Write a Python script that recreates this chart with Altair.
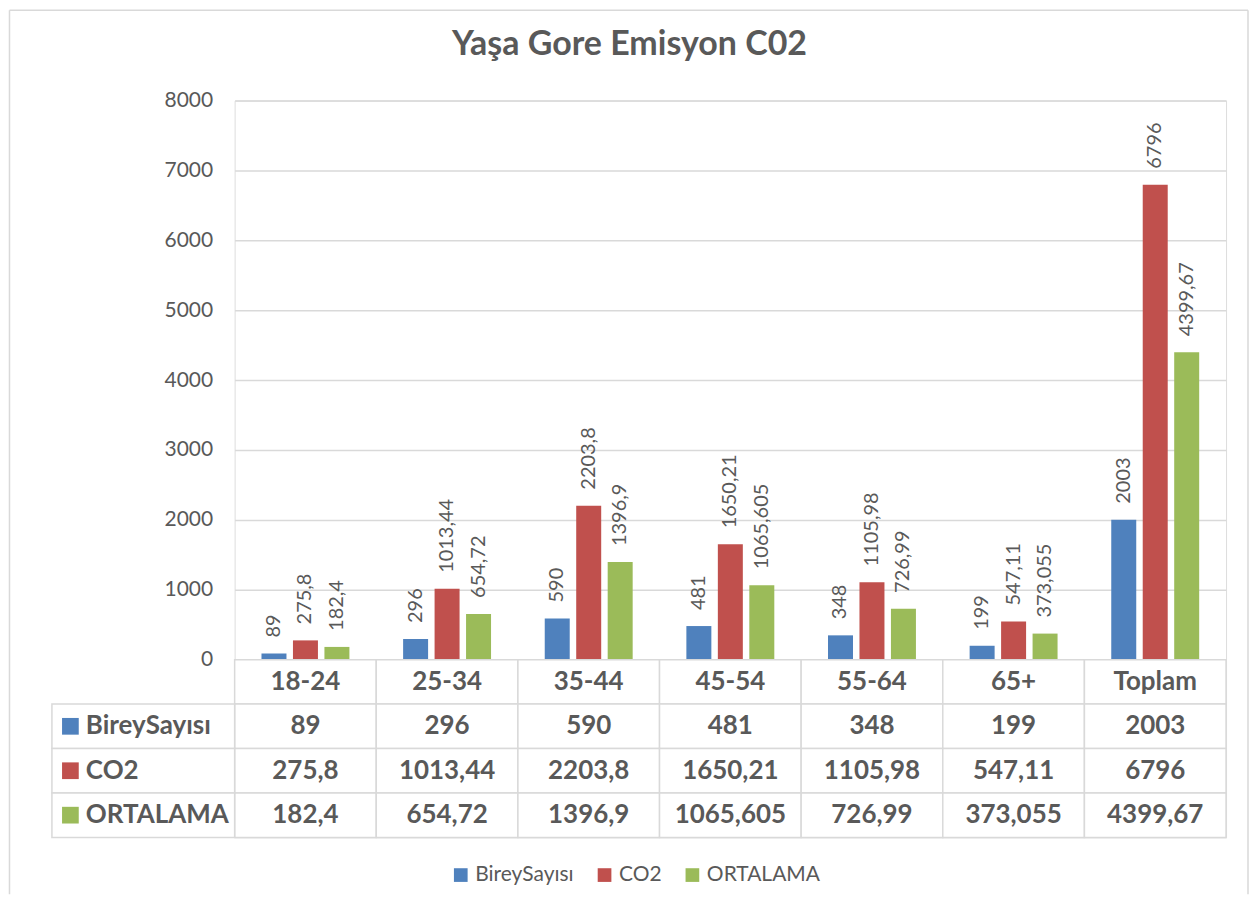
import altair as alt
import pandas as pd

categories = ["18-24", "25-34", "35-44", "45-54", "55-64", "65+", "Toplam"]
series_names = ["BireySayısı", "CO2", "ORTALAMA"]
birey = [89, 296, 590, 481, 348, 199, 2003]
co2 = [275.8, 1013.44, 2203.8, 1650.21, 1105.98, 547.11, 6796]
ortalama = [182.4, 654.72, 1396.9, 1065.605, 726.99, 373.055, 4399.67]
y_ticks = [0, 1000, 2000, 3000, 4000, 5000, 6000, 7000, 8000]
colors = ["#4f81bd", "#c0504d", "#9bbb59"]
title_text = "Yaşa Gore Emisyon C02"

FONT = "Lato"
TXT = "#595959"
GRID = "#d9d9d9"
FRAME = "#d9d9d9"


def fmt(v):
    return str(v).replace(".", ",")


rows = []
for s, vals in zip(series_names, [birey, co2, ortalama]):
    for c, v in zip(categories, vals):
        rows.append({"category": c, "series": s, "value": v, "label": fmt(v)})
df = pd.DataFrame(rows)

cells = []
for c in categories:
    cells.append({"category": c, "row": "header", "text": c})
for s, vals in zip(series_names, [birey, co2, ortalama]):
    for c, v in zip(categories, vals):
        cells.append({"category": c, "row": s, "text": fmt(v)})
cells_df = pd.DataFrame(cells)
left_df = pd.DataFrame({"row": series_names, "series": series_names})
one = pd.DataFrame({"t": [title_text]})

color_scale = alt.Scale(domain=series_names, range=colors)
row_order = ["header"] + series_names

x_enc = alt.X("category:N", sort=categories,
              scale=alt.Scale(paddingInner=0, paddingOuter=0), axis=None)
xo_enc = alt.XOffset("series:N", sort=series_names,
                     scale=alt.Scale(paddingInner=0.206, paddingOuter=0.853))
y_enc = alt.Y("value:Q", scale=alt.Scale(domain=[0, 8000], nice=False),
              axis=alt.Axis(values=y_ticks, format="d", title=None, domain=False, ticks=False,
                            labelFont=FONT, labelFontSize=21, labelColor=TXT,
                            labelPadding=22, gridColor=GRID, gridWidth=1.5))

base = alt.Chart(df).encode(x=x_enc, xOffset=xo_enc, y=y_enc)
bars = base.mark_bar().encode(
    color=alt.Color("series:N", scale=color_scale, sort=series_names,
                    legend=alt.Legend(title=None, orient="none", direction="horizontal",
                                      legendX=216, legendY=765, padding=0,
                                      symbolType="square", symbolSize=188, symbolStrokeWidth=0,
                                      labelFont=FONT, labelFontSize=21, labelColor=TXT,
                                      columnPadding=20, labelOffset=4))
)
labels = base.mark_text(angle=270, align="left", baseline="middle", dx=16,
                        font=FONT, fontSize=20, color=TXT).encode(text="label:N")

# chart frame and title (layout decorations)
frame_top = alt.Chart(one).mark_rule(color=FRAME, strokeWidth=1.5).encode(
    x=alt.value(-225.5), x2=alt.value(1015), y=alt.value(-90.5))
frame_left = alt.Chart(one).mark_rule(color=FRAME, strokeWidth=1.5).encode(
    x=alt.value(-225.5), y=alt.value(-90.5), y2=alt.value(795))
frame_right = alt.Chart(one).mark_rule(color=FRAME, strokeWidth=1.5).encode(
    x=alt.value(1015), y=alt.value(-90.5), y2=alt.value(795))
title = alt.Chart(one).mark_text(font=FONT, fontSize=34, fontWeight="bold", color=TXT,
                                 align="center", baseline="alphabetic").encode(
    x=alt.value(395.5), y=alt.value(-46), text="t:N")

top = alt.layer(frame_top, frame_left, frame_right, title, bars, labels).properties(
    width=993, height=560)

tx = alt.X("category:N", sort=categories,
           scale=alt.Scale(paddingInner=0, paddingOuter=0), axis=None)
ty = alt.Y("row:N", sort=row_order,
           scale=alt.Scale(domain=row_order, paddingInner=0, paddingOuter=0), axis=None)

cell_rects = alt.Chart(cells_df).mark_rect(fill="white", stroke=GRID, strokeWidth=1.5).encode(x=tx, y=ty)
cell_text = alt.Chart(cells_df).mark_text(font=FONT, fontSize=26, fontWeight="bold", color=TXT,
                                          baseline="middle").encode(x=tx, y=ty, text="text:N")
left_rects = alt.Chart(left_df).mark_rect(fill="white", stroke=GRID, strokeWidth=1.5).encode(
    x=alt.value(-183), x2=alt.value(0), y=ty)
squares = alt.Chart(left_df).mark_square(size=280, opacity=1).encode(
    x=alt.value(-164.5), y=ty,
    color=alt.Color("series:N", scale=color_scale, sort=series_names))
left_text = alt.Chart(left_df).mark_text(font=FONT, fontSize=26, fontWeight="bold", color=TXT,
                                         align="left", baseline="middle").encode(
    x=alt.value(-149), y=ty, text="series:N")

table = alt.layer(cell_rects, cell_text, left_rects, squares, left_text).properties(
    width=993, height=178)

chart = alt.vconcat(top, table, spacing=0, bounds="flush").properties(
    padding={"left": 0, "top": 0, "right": 0, "bottom": 0},
).configure_view(stroke=None).configure(background="white")

chart.save("out.html", embed_options={"renderer": "svg", "actions": False})
